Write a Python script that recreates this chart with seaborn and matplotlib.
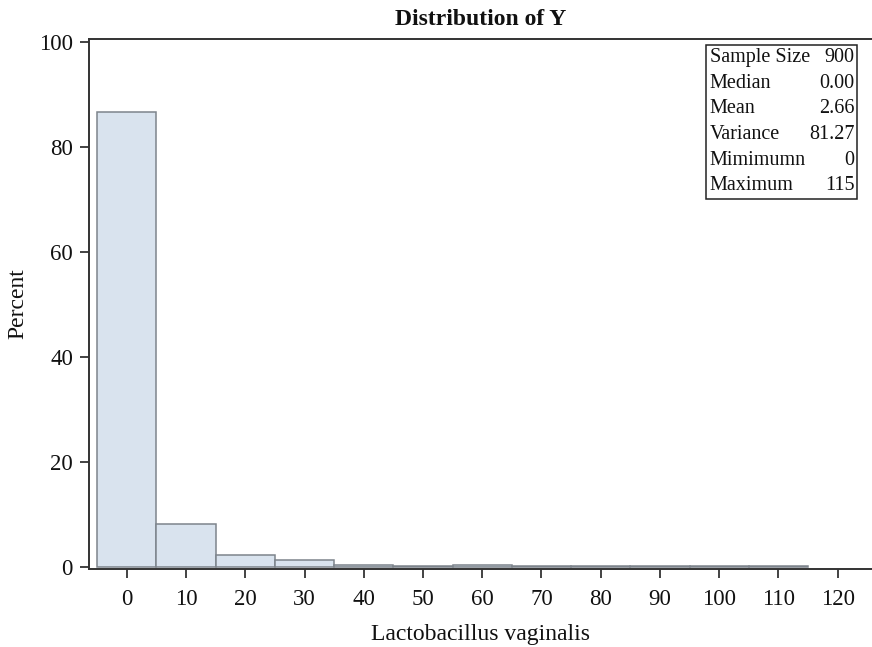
import numpy as np
import pandas as pd
import matplotlib
matplotlib.use("Agg")
import matplotlib.pyplot as plt
import seaborn as sns

# Histogram bins (midpoints, width 10) and percent of observations per bin
bin_mids = [0, 10, 20, 30, 40, 50, 60, 70, 80, 90, 100, 110]
percent = [86.67, 8.22, 2.22, 1.22, 0.33, 0.22, 0.33, 0.11, 0.22, 0.11, 0.22, 0.11]
bin_width = 10

x_ticks = [0, 10, 20, 30, 40, 50, 60, 70, 80, 90, 100, 110, 120]
y_ticks = [0, 20, 40, 60, 80, 100]

stat_names = ["Sample Size", "Median", "Mean", "Variance", "Mimimumn", "Maximum"]
stat_values = ["900", "0.00", "2.66", "81.27", "0", "115"]

sns.set_style("white")
plt.rcParams["font.family"] = ["Liberation Serif", "DejaVu Serif"]

fig = plt.figure(figsize=(8.72, 6.47), dpi=100)
ax = fig.add_axes([0.102, 0.1206, 0.898, 0.819])

df = pd.DataFrame({"value": bin_mids, "pct": percent})
sns.histplot(data=df, x="value", weights="pct", binwidth=bin_width,
             binrange=(bin_mids[0] - bin_width / 2, bin_mids[-1] + bin_width / 2), ax=ax,
             color="#D9E3EE", edgecolor="#7D848C", linewidth=1.1, alpha=1.0)

ax.set_xlim(-6.4, 125.8)
ax.set_ylim(-0.4, 100.6)
ax.set_xticks(x_ticks)
ax.set_yticks(y_ticks)
ax.tick_params(axis="both", which="major", direction="out", length=6.5, width=1.2,
               labelsize=16.5, color="#222222", labelcolor="#111111",
               bottom=True, left=True)
ax.tick_params(axis="x", pad=8)
ax.tick_params(axis="y", pad=5)
for side in ["left", "top", "bottom"]:
    ax.spines[side].set_visible(True)
    ax.spines[side].set_linewidth(1.4)
    ax.spines[side].set_color("#333333")
ax.spines["right"].set_visible(False)

ax.set_xlabel("Lactobacillus vaginalis", fontsize=17, labelpad=10, color="#111111")
ax.set_ylabel("Percent", fontsize=17, labelpad=8, color="#111111")
ax.set_title("Distribution of Y", fontsize=17, fontweight="bold", pad=10, color="#111111")

# Summary statistics inset
box_left, box_right = 0.7885, 0.9805
box_top, box_bottom = 0.9896, 0.6988
ax.add_patch(plt.Rectangle((box_left, box_bottom), box_right - box_left, box_top - box_bottom,
                           transform=ax.transAxes, fill=True, facecolor="white",
                           edgecolor="#222222", linewidth=1.1, zorder=5))
row_h = (box_top - box_bottom) / len(stat_names)
for i, (name, val) in enumerate(zip(stat_names, stat_values)):
    yc = box_top - row_h * (i + 0.5)
    ax.text(box_left + 0.004, yc, name, transform=ax.transAxes, ha="left", va="center",
            fontsize=14.5, color="#111111", zorder=6)
    ax.text(box_right - 0.003, yc, val, transform=ax.transAxes, ha="right", va="center",
            fontsize=14.5, color="#111111", zorder=6)

fig.savefig("out.png", dpi=100)
